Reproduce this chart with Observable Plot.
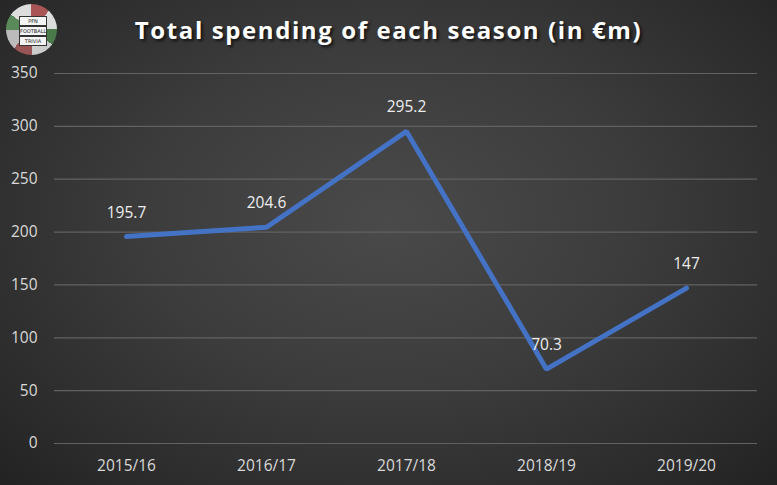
<!DOCTYPE html>
<html><head><meta charset="utf-8">
<script src="https://cdn.jsdelivr.net/npm/d3@7"></script>
<script src="https://cdn.jsdelivr.net/npm/@observablehq/plot@0.6"></script>
<style>
html,body{margin:0;padding:0;background:#2b2b2b;}
#wrap{position:relative;width:777px;height:485px;overflow:hidden;
 background:radial-gradient(ellipse at 50% 45%, #4a4a4a 0%, #3c3c3c 45%, #2a2a2a 85%, #222 100%);}
#title{position:absolute;left:0;width:777px;top:13px;text-align:center;
 font-family:"Open Sans",sans-serif;font-weight:700;font-size:24px;letter-spacing:1.6px;color:#fff;
 text-shadow:2px 2px 3px rgba(0,0,0,0.7);}
#logo{position:absolute;left:6px;top:4px;width:51px;height:51px;border-radius:50%;
 background:conic-gradient(#a55 0 12%,#ddd 12% 25%,#4a7a4a 25% 35%,#ccc 35% 50%,#955 50% 62%,#bbb 62% 75%,#5a8a5a 75% 85%,#ddd 85% 100%);}
#logo span{position:absolute;left:13px;width:26px;height:8px;background:#f4f4f4;border:1px solid #333;font-size:5px;line-height:8px;text-align:center;color:#222;font-family:"DejaVu Sans";}
svg{position:absolute;left:0;top:0;}
</style></head>
<body>
<div id="wrap">
<div id="logo"><span style="top:12px">PFN</span><span style="top:22px">FOOTBALL</span><span style="top:32px">TRIVIA</span></div>
<div id="title">Total spending of each season (in €m)</div>
</div>
<script>
const seasons = ["2015/16","2016/17","2017/18","2018/19","2019/20"];
const spending = [195.7, 204.6, 295.2, 70.3, 147];
const labels = ["195.7","204.6","295.2","70.3","147"];
const yTicks = [0,50,100,150,200,250,300,350];

const data = seasons.map((s,i)=>({season:s, value:spending[i], label:labels[i]}));

const chart = Plot.plot({
  width: 777,
  height: 485,
  marginTop: 73,
  marginBottom: 42,
  marginLeft: 54,
  marginRight: 20,
  style: {background:"transparent", color:"#d9d9d9", fontFamily:"'Open Sans',sans-serif", fontSize:"15.5px"},
  x: {type:"point", domain: seasons, padding: 0.5, label:null, tickSize:0, tickPadding:16},
  y: {domain:[0,350], ticks: yTicks, label:null, tickSize:0, tickPadding:17},
  marks: [
    Plot.ruleY(yTicks, {stroke:"#626262", strokeWidth:1.2}),
    Plot.line(data, {x:"season", y:"value", stroke:"#4472C4", strokeWidth:5, strokeLinejoin:"miter", strokeLinecap:"round"}),
    Plot.text(data, {x:"season", y:"value", text:"label", dy:-24, fill:"#eeeeee", fontSize:15.5})
  ]
});
document.getElementById("wrap").appendChild(chart);
</script>
</body></html>
